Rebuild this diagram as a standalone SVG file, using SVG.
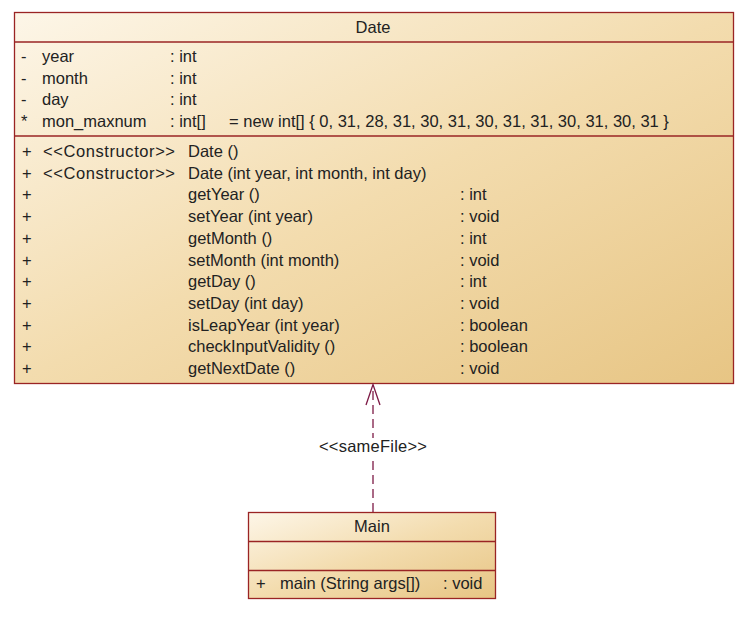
<svg xmlns="http://www.w3.org/2000/svg" width="756" height="620" viewBox="0 0 756 620">
  <style>
    text { font-family: "Liberation Sans", Arial, sans-serif; font-size: 16.5px; fill: #222; }
    .c { text-anchor: middle; }
    .box { fill: url(#g); stroke: #9a2424; stroke-width: 1.3; }
    .sep { stroke: #9a2424; stroke-width: 1.3; }
    .dep { fill: none; stroke: #7d1a45; stroke-width: 1.3; }
  </style>
  <defs>
    <linearGradient id="g" x1="0" y1="0" x2="1" y2="1">
      <stop offset="0" stop-color="#fdf6e8"/>
      <stop offset="0.5" stop-color="#f3dcae"/>
      <stop offset="1" stop-color="#e7c584"/>
    </linearGradient>
  </defs>
  <rect width="756" height="620" fill="#ffffff"/>

  <g id="Date">
    <rect class="box" x="14.5" y="12.5" width="719" height="371"/>
    <line class="sep" x1="14.5" y1="42" x2="733.5" y2="42"/>
    <line class="sep" x1="14.5" y1="136" x2="733.5" y2="136"/>
    <text class="c" x="373" y="32.7">Date</text>

    <text x="21" y="62">-</text><text x="42" y="62">year</text><text x="170" y="62">: int</text>
    <text x="21" y="83.5">-</text><text x="42" y="83.5">month</text><text x="170" y="83.5">: int</text>
    <text x="21" y="105">-</text><text x="42" y="105">day</text><text x="170" y="105">: int</text>
    <text x="21" y="126.5">*</text><text x="42" y="126.5">mon_maxnum</text><text x="170" y="126.5">: int[]</text><text x="229" y="126.5">= new int[] { 0, 31, 28, 31, 30, 31, 30, 31, 31, 30, 31, 30, 31 }</text>

    <text x="22" y="157">+</text><text x="43" y="157" textLength="132">&lt;&lt;Constructor&gt;&gt;</text><text x="188" y="157">Date ()</text>
    <text x="22" y="178.7">+</text><text x="43" y="178.7" textLength="132">&lt;&lt;Constructor&gt;&gt;</text><text x="188" y="178.7">Date (int year, int month, int day)</text>
    <text x="22" y="200.4">+</text><text x="188" y="200.4">getYear ()</text><text x="460" y="200.4">: int</text>
    <text x="22" y="222.1">+</text><text x="188" y="222.1">setYear (int year)</text><text x="460" y="222.1">: void</text>
    <text x="22" y="243.8">+</text><text x="188" y="243.8">getMonth ()</text><text x="460" y="243.8">: int</text>
    <text x="22" y="265.5">+</text><text x="188" y="265.5">setMonth (int month)</text><text x="460" y="265.5">: void</text>
    <text x="22" y="287.2">+</text><text x="188" y="287.2">getDay ()</text><text x="460" y="287.2">: int</text>
    <text x="22" y="308.9">+</text><text x="188" y="308.9">setDay (int day)</text><text x="460" y="308.9">: void</text>
    <text x="22" y="330.6">+</text><text x="188" y="330.6">isLeapYear (int year)</text><text x="460" y="330.6">: boolean</text>
    <text x="22" y="352.3">+</text><text x="188" y="352.3">checkInputValidity ()</text><text x="460" y="352.3">: boolean</text>
    <text x="22" y="374">+</text><text x="188" y="374">getNextDate ()</text><text x="460" y="374">: void</text>
  </g>

  <g id="Main">
    <rect class="box" x="248.5" y="512.5" width="247" height="86"/>
    <line class="sep" x1="248.5" y1="541.5" x2="495.5" y2="541.5"/>
    <line class="sep" x1="248.5" y1="570.5" x2="495.5" y2="570.5"/>
    <text class="c" x="372" y="531.7">Main</text>
    <text x="256" y="588.5">+</text><text x="280" y="588.5">main (String args[])</text><text x="443" y="588.5">: void</text>
  </g>

  <g id="connectors">
    <line class="dep" x1="373" y1="512" x2="373" y2="386" stroke-dasharray="9,5"/>
    <polyline class="dep" points="366,405 373,384.5 380,405"/>
    <rect x="318" y="438" width="110" height="19" fill="#ffffff"/>
    <text class="c" x="373" y="451.5" textLength="108">&lt;&lt;sameFile&gt;&gt;</text>
  </g>
</svg>
